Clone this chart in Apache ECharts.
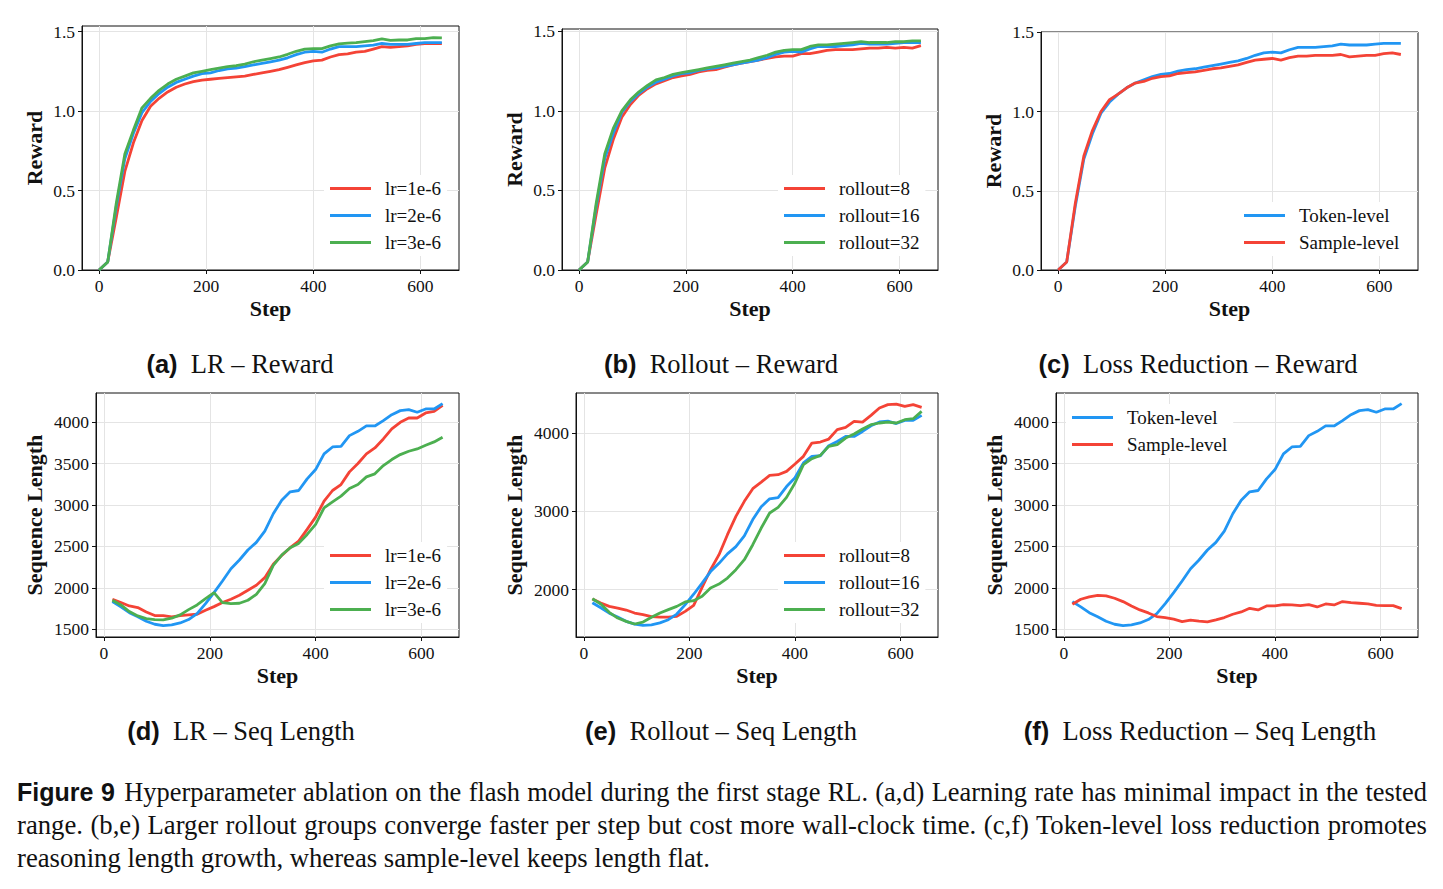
<!DOCTYPE html>
<html>
<head>
<meta charset="utf-8">
<script src="https://cdn.jsdelivr.net/npm/echarts@6/dist/echarts.min.js"></script>
<style>
  html, body { margin: 0; padding: 0; background: #fff; }
  #main { position: absolute; left: 0; top: 0; width: 1443px; height: 889px; }
  .cap { position: absolute; left: 17px; width: 1410px; height: 33px; line-height: 33px;
         font-family: 'Liberation Serif', serif; font-size: 26.7px; color: #111; white-space: nowrap; }
  .just { text-align: justify; text-align-last: justify; }
  .fig { font-family: 'Liberation Sans', sans-serif; font-weight: bold; font-size: 25px; margin-right: 2px; }
</style>
</head>
<body>
<div id="main"></div>
<div class="cap just" style="top:776px; font-size:26.4px"><span class="fig">Figure 9</span> Hyperparameter ablation on the flash model during the first stage RL. (a,d) Learning rate has minimal impact in the tested</div>
<div class="cap just" style="top:809px">range. (b,e) Larger rollout groups converge faster per step but cost more wall-clock time. (c,f) Token-level loss reduction promotes</div>
<div class="cap" style="top:842px">reasoning length growth, whereas sample-level keeps length flat.</div>
<script>
// steps
const rewardSteps = [0, 16, 32, 48, 64, 80, 96, 112, 128, 144, 160, 176, 192, 208, 224, 240, 256, 272, 288, 304,
  320, 336, 352, 368, 384, 400, 416, 432, 448, 464, 480, 496, 512, 528, 544, 560, 576, 592, 608, 624, 640];
const lenSteps = [16, 32, 48, 64, 80, 96, 112, 128, 144, 160, 176, 192, 208, 224, 240, 256, 272, 288, 304,
  320, 336, 352, 368, 384, 400, 416, 432, 448, 464, 480, 496, 512, 528, 544, 560, 576, 592, 608, 624, 640];

// reward curves
const rewardLr1e6 = [0, 0.05, 0.33, 0.62, 0.80, 0.94, 1.03, 1.08, 1.12, 1.15, 1.17, 1.185, 1.195, 1.20, 1.205, 1.21, 1.215, 1.22, 1.23, 1.24,
  1.25, 1.26, 1.275, 1.29, 1.305, 1.315, 1.32, 1.34, 1.355, 1.36, 1.37, 1.375, 1.39, 1.405, 1.40, 1.405, 1.41, 1.42, 1.425, 1.425, 1.425];
// lr=2e-6 / rollout=16 / token-level share this run
const rewardBase = [0, 0.05, 0.40, 0.70, 0.86, 0.99, 1.06, 1.11, 1.15, 1.18, 1.20, 1.22, 1.235, 1.24, 1.255, 1.265, 1.27, 1.28, 1.29, 1.30,
  1.31, 1.32, 1.335, 1.355, 1.37, 1.375, 1.37, 1.39, 1.405, 1.405, 1.405, 1.41, 1.415, 1.425, 1.42, 1.42, 1.42, 1.425, 1.43, 1.43, 1.43];
const rewardLr3e6 = [0, 0.05, 0.42, 0.73, 0.88, 1.02, 1.08, 1.13, 1.17, 1.20, 1.22, 1.24, 1.25, 1.26, 1.27, 1.28, 1.285, 1.295, 1.31, 1.32,
  1.33, 1.34, 1.357, 1.376, 1.39, 1.393, 1.393, 1.41, 1.422, 1.427, 1.43, 1.437, 1.443, 1.454, 1.445, 1.447, 1.447, 1.456, 1.456, 1.462, 1.46];
const rewardRollout8 = [0, 0.05, 0.35, 0.64, 0.82, 0.96, 1.04, 1.10, 1.14, 1.17, 1.19, 1.21, 1.22, 1.23, 1.245, 1.255, 1.26, 1.275, 1.29, 1.30,
  1.31, 1.32, 1.33, 1.34, 1.345, 1.345, 1.36, 1.36, 1.37, 1.38, 1.385, 1.385, 1.385, 1.39, 1.395, 1.395, 1.40, 1.395, 1.40, 1.395, 1.41];
const rewardRollout32 = [0, 0.05, 0.42, 0.73, 0.89, 1.00, 1.07, 1.12, 1.16, 1.195, 1.21, 1.23, 1.24, 1.25, 1.26, 1.27, 1.28, 1.29, 1.30, 1.31,
  1.32, 1.335, 1.35, 1.37, 1.38, 1.385, 1.385, 1.405, 1.415, 1.415, 1.42, 1.425, 1.43, 1.435, 1.43, 1.43, 1.43, 1.435, 1.435, 1.44, 1.44];
const rewardSample = [0, 0.05, 0.42, 0.72, 0.88, 1.00, 1.075, 1.11, 1.15, 1.18, 1.19, 1.21, 1.22, 1.225, 1.24, 1.245, 1.25, 1.26, 1.27, 1.275,
  1.285, 1.295, 1.31, 1.325, 1.33, 1.335, 1.325, 1.34, 1.35, 1.35, 1.355, 1.355, 1.355, 1.36, 1.345, 1.35, 1.355, 1.355, 1.365, 1.37, 1.36];

// sequence length curves
const lenLr1e6 = [1862, 1822, 1781, 1761, 1709, 1665, 1665, 1649, 1665, 1673, 1681, 1729, 1773, 1822, 1862, 1910, 1970, 2031, 2123, 2284,
  2392, 2485, 2565, 2706, 2854, 3047, 3176, 3248, 3401, 3502, 3618, 3690, 3799, 3920, 4000, 4052, 4052, 4113, 4133, 4205];
const lenBase = [1834, 1770, 1700, 1650, 1596, 1560, 1544, 1552, 1576, 1617, 1689, 1810, 1942, 2083, 2231, 2336, 2457, 2549, 2686, 2895,
  3059, 3160, 3176, 3317, 3429, 3618, 3702, 3710, 3839, 3891, 3956, 3956, 4020, 4092, 4141, 4153, 4121, 4161, 4161, 4225];
const lenLr3e6 = [1850, 1793, 1713, 1661, 1629, 1617, 1613, 1633, 1673, 1737, 1793, 1870, 1942, 1822, 1810, 1814, 1850, 1922, 2051, 2272,
  2396, 2485, 2537, 2645, 2766, 2967, 3039, 3108, 3200, 3248, 3341, 3377, 3477, 3550, 3610, 3650, 3678, 3722, 3763, 3819];
const lenRollout8 = [1881, 1830, 1787, 1766, 1740, 1702, 1681, 1655, 1651, 1651, 1660, 1723, 1800, 2030, 2255, 2447, 2702, 2936, 3128, 3289,
  3374, 3460, 3468, 3511, 3604, 3702, 3872, 3885, 3923, 4043, 4072, 4149, 4140, 4226, 4319, 4362, 4370, 4340, 4362, 4328];
const lenRollout32 = [1885, 1817, 1711, 1638, 1596, 1562, 1587, 1647, 1702, 1745, 1787, 1843, 1860, 1915, 2021, 2072, 2149, 2255, 2383, 2574,
  2787, 2979, 3051, 3179, 3362, 3596, 3672, 3715, 3830, 3851, 3936, 3987, 4051, 4106, 4128, 4140, 4128, 4170, 4183, 4277];
const lenSample = [1801, 1862, 1890, 1910, 1902, 1874, 1834, 1781, 1733, 1697, 1653, 1641, 1621, 1592, 1609, 1597, 1588, 1613, 1641, 1681,
  1709, 1753, 1733, 1781, 1781, 1797, 1793, 1785, 1797, 1769, 1805, 1793, 1834, 1822, 1814, 1805, 1789, 1785, 1785, 1749];

// tick labels
const stepTicks = [0, 200, 400, 600];
const rewardTicks = [0, 0.5, 1.0, 1.5];
const lenTicks = [1500, 2000, 2500, 3000, 3500, 4000];
const lenTicksRollout = [2000, 3000, 4000];

const captions = [
  ['(a)', 'LR – Reward'], ['(b)', 'Rollout – Reward'], ['(c)', 'Loss Reduction – Reward'],
  ['(d)', 'LR – Seq Length'], ['(e)', 'Rollout – Seq Length'], ['(f)', 'Loss Reduction – Seq Length']
];

const RED = '#F44336', BLUE = '#2196F3', GREEN = '#4CAF50';
const SERIF = 'Liberation Serif';
const TXT = '#111';

const zip = (xs, ys) => xs.map((x, i) => [x, ys[i]]);

const panels = [
  { box: [82, 26, 377, 244], x: [-32, 672], y: [0, 1.535], yTicks: rewardTicks, fmt: v => v.toFixed(1), yName: 'Reward', nameGap: 37,
    lines: [['lr=1e-6', RED, rewardSteps, rewardLr1e6], ['lr=2e-6', BLUE, rewardSteps, rewardBase], ['lr=3e-6', GREEN, rewardSteps, rewardLr3e6]],
    legend: [324, 175] },
  { box: [562, 29, 376, 241], x: [-32, 672], y: [0, 1.515], yTicks: rewardTicks, fmt: v => v.toFixed(1), yName: 'Reward', nameGap: 37,
    lines: [['rollout=8', RED, rewardSteps, rewardRollout8], ['rollout=16', BLUE, rewardSteps, rewardBase], ['rollout=32', GREEN, rewardSteps, rewardRollout32]],
    legend: [778, 175] },
  { box: [1041, 32, 377, 238], x: [-32, 672], y: [0, 1.502], yTicks: rewardTicks, fmt: v => v.toFixed(1), yName: 'Reward', nameGap: 37,
    lines: [['Token-level', BLUE, rewardSteps, rewardBase], ['Sample-level', RED, rewardSteps, rewardSample]],
    legend: [1238, 202] },
  { box: [96, 393, 363, 244], x: [-15, 671], y: [1406, 4354], yTicks: lenTicks, fmt: v => String(v), yName: 'Sequence Length', nameGap: 51,
    lines: [['lr=1e-6', RED, lenSteps, lenLr1e6], ['lr=2e-6', BLUE, lenSteps, lenBase], ['lr=3e-6', GREEN, lenSteps, lenLr3e6]],
    legend: [324, 542] },
  { box: [576, 393, 362, 244], x: [-15, 671], y: [1396, 4511], yTicks: lenTicksRollout, fmt: v => String(v), yName: 'Sequence Length', nameGap: 51,
    lines: [['rollout=8', RED, lenSteps, lenRollout8], ['rollout=16', BLUE, lenSteps, lenBase], ['rollout=32', GREEN, lenSteps, lenRollout32]],
    legend: [778, 542] },
  { box: [1056, 393, 362, 244], x: [-15, 671], y: [1406, 4354], yTicks: lenTicks, fmt: v => String(v), yName: 'Sequence Length', nameGap: 51,
    lines: [['Token-level', BLUE, lenSteps, lenBase], ['Sample-level', RED, lenSteps, lenSample]],
    legend: [1066, 404] }
];

const capPos = [[240, 364], [721, 364], [1198, 364], [241, 731], [721, 731], [1200, 731]];

const grid = [], xAxis = [], yAxis = [], series = [], legend = [], graphic = [];

// tick labels go through a rich style so the serif face sticks
const tickRich = { s: { fontFamily: SERIF, fontSize: 17.5, color: TXT } };
const tickLabel = { fontFamily: SERIF, fontSize: 17.5, color: TXT, rich: tickRich };
const nameStyle = { fontFamily: SERIF, fontSize: 22, fontWeight: 'bold', color: TXT };
const axisLine = { show: true, onZero: false, lineStyle: { color: '#111', width: 1 } };
const split = { show: true, lineStyle: { color: '#e4e4e4', width: 1 } };

panels.forEach((p, i) => {
  grid.push({ left: p.box[0], top: p.box[1], width: p.box[2], height: p.box[3], show: true,
    borderColor: '#111', borderWidth: 1, backgroundColor: 'transparent' });
  xAxis.push({
    gridIndex: i, type: 'value', min: p.x[0], max: p.x[1],
    axisLine, splitLine: split,
    axisTick: { show: true, length: 4, customValues: stepTicks, lineStyle: { color: '#111' } },
    axisLabel: { customValues: stepTicks, margin: 7, formatter: v => '{s|' + v + '}', ...tickLabel },
    name: 'Step', nameLocation: 'middle', nameGap: 27, nameTextStyle: nameStyle
  });
  yAxis.push({
    gridIndex: i, type: 'value', min: p.y[0], max: p.y[1],
    axisLine, splitLine: split,
    axisTick: { show: true, length: 4, customValues: p.yTicks, lineStyle: { color: '#111' } },
    axisLabel: { customValues: p.yTicks, margin: 7, formatter: v => '{s|' + p.fmt(v) + '}', ...tickLabel },
    name: p.yName, nameLocation: 'middle', nameGap: p.nameGap, nameTextStyle: nameStyle
  });
  p.lines.forEach(([name, color, xs, ys]) => {
    series.push({
      name, type: 'line', xAxisIndex: i, yAxisIndex: i, data: zip(xs, ys),
      showSymbol: false, symbol: 'none', color,
      lineStyle: { color, width: 2.8 }, itemStyle: { color }, animation: false
    });
  });
  legend.push({
    data: p.lines.map(l => l[0]), orient: 'vertical', left: p.legend[0], top: p.legend[1],
    icon: 'rect', itemWidth: 41, itemHeight: 3, itemGap: 8,
    backgroundColor: '#fff', padding: [4, 6, 4, 6], selectedMode: false,
    textStyle: { fontFamily: SERIF, fontSize: 19, lineHeight: 19, color: TXT, padding: [0, 0, 0, 9] }
  });
  graphic.push({
    type: 'text', x: capPos[i][0], y: capPos[i][1],
    style: {
      text: '{b|' + captions[i][0] + '}  {n|' + captions[i][1] + '}',
      align: 'center', verticalAlign: 'middle', fontFamily: SERIF, fontSize: 26.5, fill: TXT,
      rich: {
        b: { fontFamily: 'Liberation Sans', fontWeight: 'bold', fontSize: 25.5, fill: TXT },
        n: { fontFamily: SERIF, fontSize: 26.5, fill: TXT }
      }
    }
  });
});

const chart = echarts.init(document.getElementById('main'), null, { renderer: 'svg' });
chart.setOption({
  animation: false,
  backgroundColor: '#fff',
  textStyle: { fontFamily: SERIF },
  grid, xAxis, yAxis, series, legend, graphic,
  tooltip: { show: false }
});
</script>
</body>
</html>
